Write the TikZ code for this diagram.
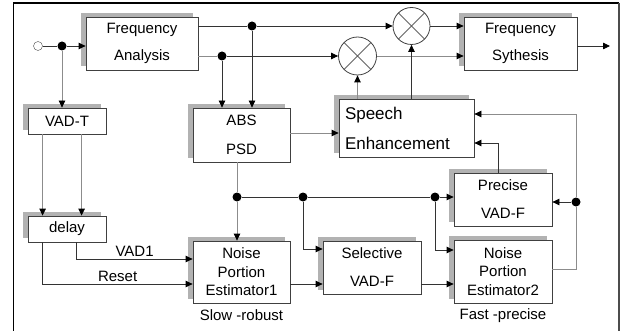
\documentclass[tikz,border=0pt]{standalone}
\usepackage{fontspec}
\setmainfont{Liberation Sans}
\usetikzlibrary{arrows.meta, shadows}

\begin{document}
\begin{tikzpicture}[x=1pt, y=-1pt, >={Triangle[length=7pt,width=6.5pt,color=black]},
    font=\fontsize{15}{18}\selectfont]

  \tikzset{
    blockbox/.style={draw=black!75, line width=0.8pt, fill=white,
      align=center, inner sep=0pt,
      general shadow={fill=black!30, shadow xshift=-5pt, shadow yshift=4pt}},
    mixer/.style={draw=black!75, line width=0.8pt, circle, fill=white,
      inner sep=0pt,
      path picture={\draw[black!60]
        (path picture bounding box.south west) -- (path picture bounding box.north east)
        (path picture bounding box.north west) -- (path picture bounding box.south east);}},
    junction/.style={circle, fill=black, minimum size=9pt, inner sep=0pt},
    inport/.style={circle, draw=black!70, fill=white, minimum size=9pt, inner sep=0pt},
    wire/.style={draw=black!80, line width=0.8pt},
    litewire/.style={draw=black!45, line width=0.8pt}
  }

  \useasboundingbox (0,0) rectangle (631,331);

  % frame
  \draw[line width=1.4pt] (13.5,331) -- (13.5,3) -- (619,3);
  \draw[line width=1.4pt, black!70] (619,3) -- (619,331);

  % analysis / synthesis
  \node[blockbox, minimum width=112pt, minimum height=53pt] (fa) at (142,43.5)
    {Frequency\\[9pt]Analysis};
  \node[blockbox, minimum width=113pt, minimum height=53pt] (fs) at (520.5,43.5)
    {Frequency\\[9pt]Sythesis};
  \node[mixer, minimum size=38pt] (m1) at (357.5,56) {};
  \node[mixer, minimum size=37pt] (m2) at (411.5,26) {};

  % left column
  \node[blockbox, minimum width=78pt, minimum height=26pt] (vadt) at (67,121) {VAD-T};
  \node[blockbox, minimum width=78pt, minimum height=26pt] (delay) at (67,229) {delay};

  % middle blocks
  \node[blockbox, minimum width=97pt, minimum height=54pt] (abs) at (241.5,135)
    {ABS\\[11pt]PSD};
  \node[blockbox, minimum width=135pt, minimum height=58pt, text width=123pt,
    align=left, font=\fontsize{17}{20}\selectfont] (se) at (406.5,128)
    {Speech\\[10pt]Enhancement};
  \node[blockbox, minimum width=97pt, minimum height=62pt,
    font=\fontsize{15}{18.5}\selectfont] (npe1) at (241.5,272)
    {Noise\\Portion\\Estimator1};
  \node[blockbox, minimum width=98pt, minimum height=53pt] (svad) at (372,267.5)
    {Selective\\[10pt]VAD-F};
  \node[blockbox, minimum width=98pt, minimum height=53pt] (pvad) at (503,199.5)
    {Precise\\[10pt]VAD-F};
  \node[blockbox, minimum width=98pt, minimum height=63pt,
    font=\fontsize{15}{18.5}\selectfont] (npe2) at (503,271.5)
    {Noise\\Portion\\Estimator2};

  \node (slow) at (241.5,315) {Slow -robust};
  \node (fast) at (503,316) {Fast -precise};

  % branch points
  \node[inport] (in) at (38,46) {};
  \node[junction] (d0) at (62,46) {};
  \node[junction] (d1) at (252,26) {};
  \node[junction] (d2) at (222,56) {};
  \node[junction] (d3) at (237,197) {};
  \node[junction] (d4) at (303,197) {};
  \node[junction] (d5) at (435,197) {};
  \node[junction] (d6) at (576,202) {};
  \coordinate (out) at (610,46);
  \coordinate (n1o) at ([yshift=-12pt]npe1.east);
  \coordinate (svo) at ([yshift=-16.5pt]svad.east);

  % top path
  \draw[wire] (in) -- (d0);
  \draw[wire, ->] (d0) -- (d0 -| fa.west);
  \draw[litewire, ->] (d0) -- (d0 |- vadt.north);
  \draw[wire] (fa.east |- d1) -- (d1);
  \draw[wire, ->] (d1) -- (m2);
  \draw[litewire] (fa.east |- d2) -- (d2);
  \draw[wire, ->] (d2) -- (m1);
  \draw[wire, ->] (d2) -- (d2 |- abs.north);
  \draw[wire, ->] (d1) -- (d1 |- abs.north);
  \draw[wire, ->] (m2) -- (m2 -| fs.west);
  \draw[litewire, ->] (m1) -- (m1 -| fs.west);
  \draw[wire, ->] (fs.east |- out) -- (out);

  % gains
  \draw[litewire, ->] (abs.east |- 0,133) -- (se.west |- 0,133);
  \draw[litewire, ->] (se.north -| m1) -- (m1);
  \draw[wire, ->] (se.north -| m2) -- (m2);

  % VAD-T and delay
  \draw[litewire, ->] ([xshift=15pt]vadt.south west) -- ([xshift=15pt]delay.north west);
  \draw[litewire, ->] ([xshift=54pt]vadt.south west) -- ([xshift=54pt]delay.north west);
  \draw[wire, ->] ([xshift=49pt]delay.south west) |- ([yshift=13pt]npe1.west)
    node[pos=0.75, above, inner sep=2pt] (vad1) {VAD1};
  \draw[wire, ->] ([xshift=15pt]delay.south west) |- ([yshift=-12pt]npe1.west)
    node[pos=0.75, above, inner sep=2pt] (reset) {Reset};

  % noise estimation
  \draw[litewire] (abs.south -| d3) -- (d3);
  \draw[litewire, ->] (d3) -- (d3 |- npe1.north);
  \draw[wire] (d3) -- (d4);
  \draw[wire] (d4) -- (d5);
  \draw[wire, ->] (d5) -- (d5 -| pvad.west);
  \draw[wire, ->] (d4) |- ([yshift=18.5pt]svad.west);
  \draw[wire, ->] (n1o) -- (n1o -| svad.west);
  \draw[wire, ->] (d5) |- ([yshift=21.5pt]npe2.west);
  \draw[wire, ->] (svo) -- (svo -| npe2.west);

  % feedback
  \draw[litewire] ([yshift=2.5pt]npe2.east) -| (d6);
  \draw[wire, ->] (d6) -- (d6 -| pvad.east);
  \draw[litewire, ->] (d6) |- ([yshift=14pt]se.east);
  \draw[wire, ->] ([xshift=-5pt]pvad.north) |- ([yshift=-15pt]se.east);

\end{tikzpicture}
\end{document}
